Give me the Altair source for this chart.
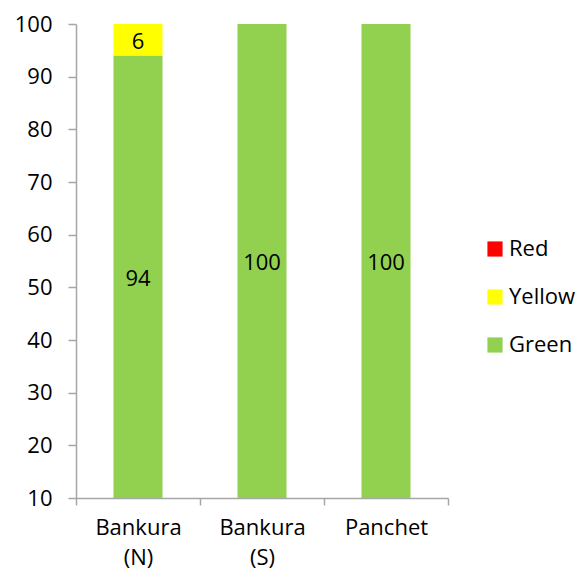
import altair as alt
import pandas as pd

sites = ["Bankura (N)", "Bankura (S)", "Panchet"]
classes = ["Green", "Yellow", "Red"]  # stack order bottom -> top
green = [94, 100, 100]
yellow = [6, 0, 0]
red = [0, 0, 0]
colors = {"Red": "#FF0000", "Yellow": "#FFFF00", "Green": "#92D050"}
ymin = 10

rows = []
for i, s in enumerate(sites):
    base = 0
    for c, vals in zip(classes, [green, yellow, red]):
        v = vals[i]
        lo, hi = base, base + v
        vis_lo = max(lo, ymin)
        rows.append({"site": s, "cls": c, "value": v, "start": lo, "end": hi,
                     "mid": (vis_lo + hi) / 2, "order": classes.index(c)})
        base = hi
df = pd.DataFrame(rows)

FONT = "Open Sans"
x = alt.X("site:N", sort=sites, title=None,
          scale=alt.Scale(paddingInner=0, paddingOuter=0),
          axis=alt.Axis(labelAngle=0, tickBand="extent", labelExpr="split(datum.label, ' ')",
                        labelLineHeight=30, labelPadding=12, tickSize=7,
                        domainColor="#A6A6A6", tickColor="#A6A6A6", domainWidth=1.5, tickWidth=1.5,
                        labelFontSize=22, labelFont=FONT, labelColor="black", labelBaseline="top"))

bars = alt.Chart(df).mark_bar(width=49, clip=True).encode(
    x=x,
    y=alt.Y("end:Q", title=None,
            scale=alt.Scale(domain=[10, 100], nice=False, zero=False),
            axis=alt.Axis(values=list(range(10, 101, 10)), grid=False, tickSize=8,
                          labelPadding=16, domainColor="#A6A6A6", tickColor="#A6A6A6",
                          domainWidth=1.5, tickWidth=1.5,
                          labelFontSize=22, labelFont=FONT, labelColor="black")),
    y2="start:Q",
    color=alt.Color("cls:N", title=None,
                    scale=alt.Scale(domain=["Red", "Yellow", "Green"],
                                    range=[colors["Red"], colors["Yellow"], colors["Green"]]),
                    legend=alt.Legend(orient="none", legendX=408, legendY=214,
                                      symbolType="square", symbolSize=230, symbolStrokeWidth=0,
                                      labelFontSize=22, labelFont=FONT, labelColor="black",
                                      rowPadding=26, labelOffset=3)),
    order="order:Q",
)

labels = alt.Chart(df).transform_filter("datum.value > 0").mark_text(
    fontSize=22, font=FONT, color="black", dy=2
).encode(
    x=alt.X("site:N", sort=sites),
    y=alt.Y("mid:Q"),
    text="value:Q",
)

chart = alt.layer(bars, labels).properties(
    width=372, height=474,
    autosize=alt.AutoSizeParams(type="none"),
    padding={"left": 68, "top": 16, "right": 128, "bottom": 73},
).configure_view(stroke=None)

chart.save("out.html", embed_options={"renderer": "svg", "actions": False})
